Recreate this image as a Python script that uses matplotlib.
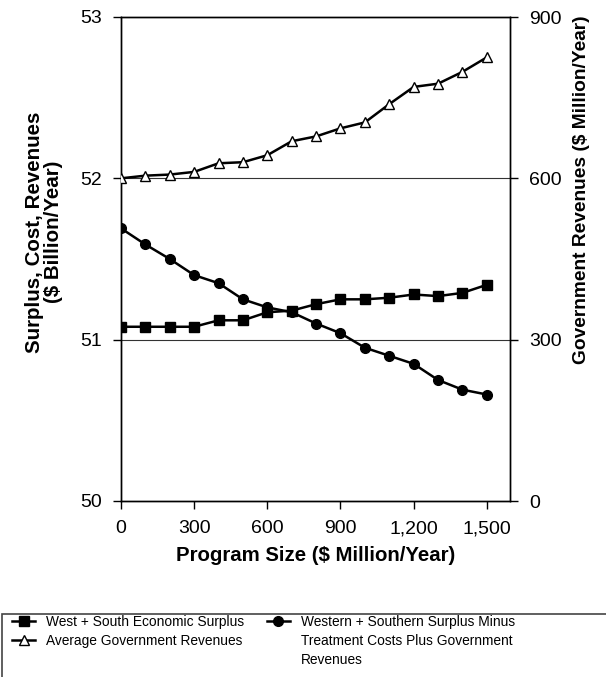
import matplotlib
matplotlib.use("Agg")
import matplotlib.pyplot as plt
from matplotlib.lines import Line2D
from matplotlib.patches import Rectangle
from matplotlib.ticker import FuncFormatter

plt.rcParams['font.family'] = ['Liberation Sans', 'DejaVu Sans']

# program size ($ million/year)
program_size = [0, 100, 200, 300, 400, 500, 600, 700, 800, 900,
                1000, 1100, 1200, 1300, 1400, 1500]

# West + South economic surplus ($ billion/year)
surplus = [51.08, 51.08, 51.08, 51.08, 51.12, 51.12, 51.17, 51.18,
           51.22, 51.25, 51.25, 51.26, 51.28, 51.27, 51.29, 51.34]

# surplus minus treatment costs plus gov revenues ($ billion/year)
net_surplus = [51.69, 51.59, 51.50, 51.40, 51.35, 51.25, 51.20, 51.17,
               51.10, 51.04, 50.95, 50.90, 50.85, 50.75, 50.69, 50.66]

# average government revenues ($ million/year)
gov_revenues = [600, 605, 607, 612, 628, 630, 643, 669, 678, 693,
                704, 738, 770, 776, 798, 825]

x_ticks = [0, 300, 600, 900, 1200, 1500]

fig = plt.figure(figsize=(6.06, 6.77), dpi=100)
ax = fig.add_axes([121 / 606, 1 - 501 / 677, (510 - 121) / 606, (501 - 17) / 677])
ax2 = ax.twinx()

# gridlines at 51 and 52
for g in [51, 52]:
    ax.axhline(g, color='#333333', lw=0.8, zorder=1)

l1, = ax.plot(program_size, surplus, color='black', lw=1.8, marker='s',
              markersize=7, zorder=3)
l3, = ax.plot(program_size, net_surplus, color='black', lw=1.8, marker='o',
              markersize=7, zorder=3)
l2, = ax2.plot(program_size, gov_revenues, color='black', lw=1.8, marker='^',
               markersize=7, markerfacecolor='white', markeredgewidth=1.0,
               zorder=3)

ax.set_xlim(0, 1595)
ax.set_ylim(50, 53)
ax2.set_ylim(0, 900)
ax.set_xticks(x_ticks)
ax.xaxis.set_major_formatter(FuncFormatter(lambda v, p: f"{int(v):,}"))
ax.set_yticks([50, 51, 52, 53])
ax2.set_yticks([0, 300, 600, 900])

for a in (ax, ax2):
    for s in a.spines.values():
        s.set_linewidth(1.0)
        s.set_color('black')
    a.tick_params(direction='out', length=6, width=1.0, labelsize=14,
                  colors='black', pad=8)

ax.set_xlabel('Program Size ($ Million/Year)', fontsize=14.7, fontweight='bold',
              labelpad=6)
ax.set_ylabel('Surplus, Cost, Revenues\n($ Billion/Year)', fontsize=14.8,
              fontweight='bold', linespacing=1.0)
ax.yaxis.set_label_coords(-0.149, 0.556)
ax2.set_ylabel('Government Revenues ($ Million/Year)', fontsize=13.8,
               fontweight='bold')
ax2.yaxis.set_label_coords(1.162, 0.643)

# legend: continuation lines of the long label use blank handles
blank = Line2D([], [], linestyle='none')
handles = [l1, l2, blank, l3, blank, blank]
labels = ['West + South Economic Surplus', 'Average Government Revenues', '',
          'Western + Southern Surplus Minus', 'Treatment Costs Plus Government',
          'Revenues']
fig.legend(handles, labels, ncol=2, loc='upper left',
           bbox_to_anchor=(12 / 606, 1 - 615 / 677), frameon=False,
           borderaxespad=0, borderpad=0, handlelength=1.7, handletextpad=0.8,
           columnspacing=1.6, labelspacing=0.35, fontsize=9.9)

fig.patches.append(Rectangle((2 / 606, -0.05), 1.0, 0.05 + 1 - 614 / 677,
                             transform=fig.transFigure, fill=False,
                             edgecolor='#444444', lw=1.2))

fig.savefig('out.png', dpi=100)
